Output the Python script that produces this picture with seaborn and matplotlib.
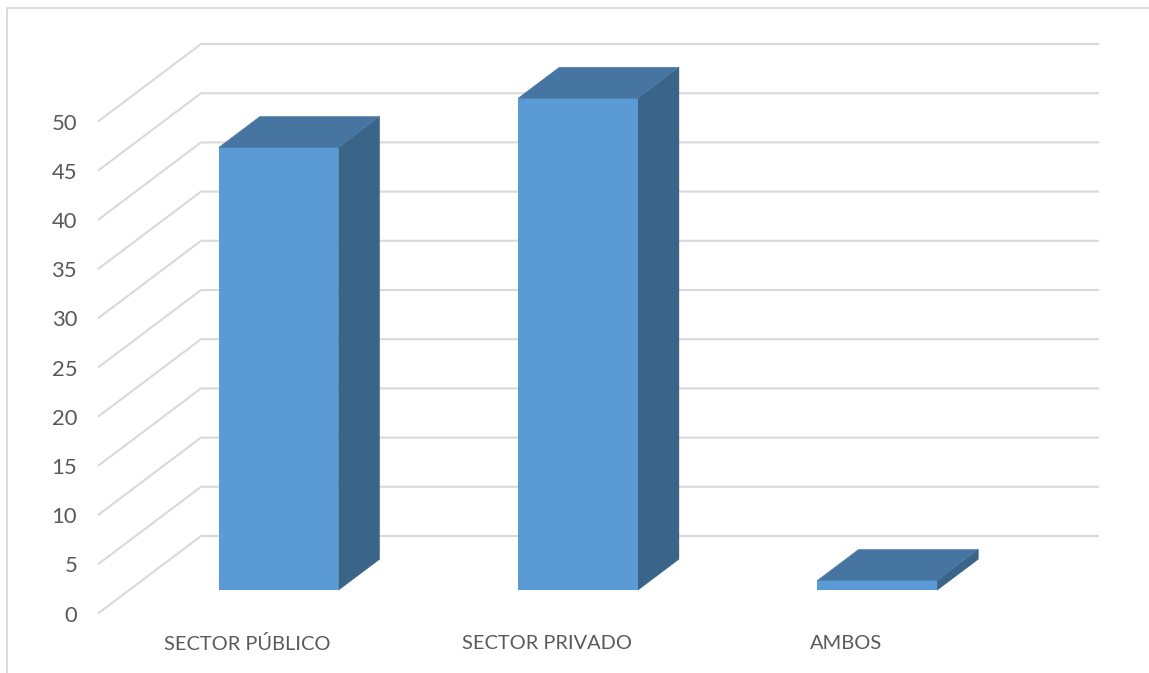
import matplotlib
matplotlib.use("Agg")
import matplotlib.pyplot as plt
import pandas as pd
import seaborn as sns
from matplotlib.lines import Line2D
from matplotlib.patches import Polygon
from matplotlib.transforms import Affine2D, IdentityTransform

categories = ["SECTOR PÚBLICO", "SECTOR PRIVADO", "AMBOS"]
values = [45, 50, 1]
y_ticks = [0, 5, 10, 15, 20, 25, 30, 35, 40, 45, 50]

GRID = "#D9D9D9"
TEXT = "#595959"
FRONT = "#5B9BD5"
TOP = "#4675A2"
SIDE = "#3A6488"
W, H = 1149, 673
DX, DY = 103.0, 77.5       # full chart depth in pixels
BAR_NEAR, BAR_FAR = 0.30, 0.70

sns.set_theme(style="white")
plt.rcParams["font.family"] = ["Lato", "DejaVu Sans"]

fig = plt.figure(figsize=(W / 100, H / 100), dpi=100, facecolor="white")
left, right, top, bottom = 98, 996, 121.5, 613.5
ax = fig.add_axes([left / W, 1 - bottom / H, (right - left) / W, (bottom - top) / H])
ax.patch.set_alpha(0)

df = pd.DataFrame({"categoria": categories, "valor": values})
sns.barplot(data=df, x="categoria", y="valor", color=FRONT, saturation=1, width=0.4, ax=ax, zorder=3)
ax.set_xlim(-0.5, len(categories) - 0.5)
ax.set_ylim(0, 50)
ax.set_yticks(y_ticks)
ax.set_xlabel("")
ax.set_ylabel("")
sns.despine(ax=ax, left=True, bottom=True)
ax.tick_params(axis="y", length=0, pad=15, labelsize=15.8, labelcolor=TEXT)
ax.tick_params(axis="x", length=0, pad=15.5, labelsize=14.4, labelcolor=TEXT)


def project(x, y, d):
    px, py = ax.transData.transform((x, y))
    return px + DX * d, py + DY * d


identity = IdentityTransform()
x0, x1 = ax.get_xlim()

# back wall gridlines and left wall diagonals
for v in y_ticks:
    pts = [project(x0, v, 0), project(x0, v, 1), project(x1, v, 1)]
    ax.add_line(Line2D([p[0] for p in pts], [p[1] for p in pts], color=GRID, lw=1.5,
                       transform=identity, clip_on=False, zorder=1,
                       solid_joinstyle="miter", solid_capstyle="butt"))

# bars: the front faces come from seaborn, pushed back to the near depth
for bar in ax.patches:
    xa, xb = bar.get_x(), bar.get_x() + bar.get_width()
    h = bar.get_height()
    bar.set_transform(ax.transData + Affine2D().translate(DX * BAR_NEAR, DY * BAR_NEAR))
    bar.set_clip_on(False)
    bar.set_edgecolor(FRONT)
    bar.set_linewidth(0)
    top_face = [project(xa, h, BAR_NEAR), project(xb, h, BAR_NEAR),
                project(xb, h, BAR_FAR), project(xa, h, BAR_FAR)]
    side_face = [project(xb, 0, BAR_NEAR), project(xb, h, BAR_NEAR),
                 project(xb, h, BAR_FAR), project(xb, 0, BAR_FAR)]
    ax.add_patch(Polygon(side_face, closed=True, facecolor=SIDE, edgecolor=SIDE, lw=0.3,
                         transform=identity, clip_on=False, zorder=2))
    ax.add_patch(Polygon(top_face, closed=True, facecolor=TOP, edgecolor=TOP, lw=0.3,
                         transform=identity, clip_on=False, zorder=4))

# chart frame, cut by the image on the right and at the bottom
fig.add_artist(Line2D([7 / W, 7 / W, 1], [0, 1 - 7.5 / H, 1 - 7.5 / H],
                      color=GRID, lw=1.3, transform=fig.transFigure))

fig.savefig("out.png", dpi=100, facecolor="white")
